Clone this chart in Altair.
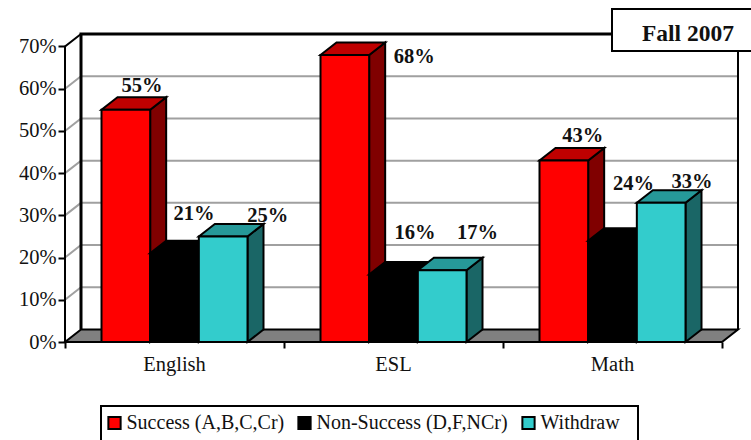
import altair as alt
import pandas as pd

# Chart values, in percent
categories = ["English", "ESL", "Math"]
series_names = ["Success (A,B,C,Cr)", "Non-Success (D,F,NCr)", "Withdraw"]
success = [55, 68, 43]
non_success = [21, 16, 24]
withdraw = [25, 17, 33]
tick_values = [0, 10, 20, 30, 40, 50, 60, 70]
grid_values = [10, 20, 30, 40, 50, 60]

# Face colours per series
front_colors = ["#FF0000", "#000000", "#33CCCC"]
side_colors = ["#800000", "#000000", "#1A6666"]
top_colors = ["#BF0000", "#000000", "#269999"]

# Value-label nudges in pixels, by series then category
label_dx = [[16.2, 69.5, 19.0], [19.5, 21.5, 21.0], [44.5, 35.3, 30.8]]
label_dy = [[-23.4, 1.6, -24], [-39, -41, -56.5], [-20, -37, -21]]

# Layout: pixels per category and per percentage point
PLOT_W, PLOT_H = 686, 342
PX_CAT, PX_PCT = 219.0, 295.5 / 70
DEPTH_X, DEPTH_Y = 16 / PX_CAT, 12.5 / PX_PCT
BAR_W, GAP = 2 / 9, 1 / 6
FONT = "Liberation Serif"
TEXT_SIZE = 20.5

x_scale = alt.Scale(domain=[0, PLOT_W / PX_CAT], nice=False, zero=False)
y_scale = alt.Scale(domain=[0, PLOT_H / PX_PCT], nice=False, zero=False)
x_axis = alt.Axis(values=[0, 1, 2, 3], labels=False, grid=False, domain=False, title=None,
                  tickColor="black", tickWidth=2, tickSize=6)
y_axis = alt.Axis(values=tick_values, labelExpr="datum.value + '%'", grid=False, domain=False, title=None,
                  tickColor="black", tickWidth=2, tickSize=7, labelPadding=2,
                  labelFont=FONT, labelFontSize=TEXT_SIZE, labelColor="#111111")
X = lambda f="x": alt.X(f"{f}:Q", scale=x_scale, axis=x_axis)
Y = lambda f="y": alt.Y(f"{f}:Q", scale=y_scale, axis=y_axis)


def path(points, **style):
    """Straight outline through (x, y) points in data space."""
    df = pd.DataFrame({"x": [p[0] for p in points], "y": [p[1] for p in points], "i": range(len(points))})
    return alt.Chart(df).mark_line(clip=False, **style).encode(x=X(), y=Y(), order="i:Q")


def side_face(x0, value, color):
    df = pd.DataFrame({"x": [x0, x0 + DEPTH_X], "y": [0, DEPTH_Y], "y2": [value, value + DEPTH_Y]})
    return alt.Chart(df).mark_area(fill=color, stroke="black", strokeWidth=2, opacity=1).encode(
        x=X(), y=Y(), y2="y2:Q")


def flat_face(x0, x1, value, color, width=2):
    df = pd.DataFrame({"y": [value, value + DEPTH_Y], "x": [x0, x0 + DEPTH_X], "x2": [x1, x1 + DEPTH_X]})
    return alt.Chart(df).mark_area(orient="horizontal", fill=color, stroke="black", strokeWidth=width, opacity=1).encode(
        y=Y(), x=X(), x2="x2:Q")


layers = []

# Gridlines running along the side wall and the back wall
for v in grid_values:
    layers.append(path([(0, v), (DEPTH_X, v + DEPTH_Y), (3 + DEPTH_X, v + DEPTH_Y)],
                       stroke="#A0A0A0", strokeWidth=2))

# Floor and wall outlines
layers.append(flat_face(0, 3, 0, "#808080"))
layers.append(path([(0, 0), (0, 70), (DEPTH_X, 70 + DEPTH_Y)], stroke="black", strokeWidth=2))
layers.append(path([(DEPTH_X, DEPTH_Y), (DEPTH_X, 70 + DEPTH_Y), (3 + DEPTH_X, 70 + DEPTH_Y)],
                   stroke="black", strokeWidth=3))
layers.append(path([(3 + DEPTH_X, DEPTH_Y), (3 + DEPTH_X, 70 + DEPTH_Y)], stroke="black", strokeWidth=2))

legend = alt.Legend(
    title=None, orient="none", legendX=39.5, legendY=413, direction="horizontal", columns=3,
    gridAlign="none", columnPadding=9, symbolType="square", symbolSize=150,
    symbolStrokeColor="black", symbolStrokeWidth=2, symbolOpacity=1, labelOffset=2,
    labelFont=FONT, labelFontSize=20, labelColor="#111111", padding=0, labelLimit=300,
)

# The bars, painted from the back of each cluster to the front
for s, values in enumerate([success, non_success, withdraw]):
    for c, value in enumerate(values):
        x0 = c + GAP + s * BAR_W
        x1 = x0 + BAR_W
        layers.append(side_face(x1, value, side_colors[s]))
        layers.append(flat_face(x0, x1, value, top_colors[s]))
    front = pd.DataFrame({
        "x": [c + GAP + s * BAR_W for c in range(3)],
        "x2": [c + GAP + (s + 1) * BAR_W for c in range(3)],
        "y": values,
        "series": series_names[s],
    })
    layers.append(
        alt.Chart(front).mark_bar(stroke="black", strokeWidth=2, opacity=1).encode(
            x=X(), x2="x2:Q", y=Y(), y2=alt.Y2(datum=0),
            color=alt.Color("series:N", scale=alt.Scale(domain=series_names, range=front_colors),
                            sort=series_names, legend=legend),
        )
    )

# Value labels
rows = []
for s, values in enumerate([success, non_success, withdraw]):
    for c, value in enumerate(values):
        rows.append({
            "x": c + GAP + (s + 0.5) * BAR_W + label_dx[s][c] / PX_CAT,
            "y": value - label_dy[s][c] / PX_PCT,
            "label": f"{value}%",
        })
layers.append(
    alt.Chart(pd.DataFrame(rows)).mark_text(
        font=FONT, fontSize=TEXT_SIZE, fontWeight="bold", color="#111111", baseline="middle"
    ).encode(x=X(), y=Y(), text="label:N")
)

# Category names under the floor
cat_df = pd.DataFrame({"x": [i + 0.5 for i in range(3)], "y": [0] * 3, "name": categories})
layers.append(
    alt.Chart(cat_df).mark_text(font=FONT, fontSize=TEXT_SIZE, color="#111111", baseline="middle", dy=23).encode(
        x=X(), y=Y(), text="name:N")
)

# Term tag in the top-right corner
layers.append(
    alt.Chart(pd.DataFrame({"a": [0]})).mark_rect(fill="white", stroke="black", strokeWidth=2).encode(
        x=alt.value(547), x2=alt.value(700), y=alt.value(9), y2=alt.value(51))
)
layers.append(
    alt.Chart(pd.DataFrame({"t": ["Fall 2007"]})).mark_text(
        font=FONT, fontSize=23.5, fontWeight="bold", color="#111111", baseline="middle"
    ).encode(x=alt.value(623), y=alt.value(34), text="t:N")
)

# Frame around the legend, which runs off the bottom of the page
layers.append(
    alt.Chart(pd.DataFrame({"a": [0]})).mark_rect(fill="transparent", stroke="black", strokeWidth=2).encode(
        x=alt.value(36), x2=alt.value(573), y=alt.value(406), y2=alt.value(445))
)

chart = (
    alt.layer(*layers)
    .resolve_scale(x="shared", y="shared")
    .properties(width=PLOT_W, height=PLOT_H,
                padding={"left": 65, "top": 0, "right": 0, "bottom": 98},
                autosize=alt.AutoSizeParams(type="none"), background="white")
    .configure_view(stroke=None)
)

chart.save("out.html", embed_options={"renderer": "svg", "actions": False})
